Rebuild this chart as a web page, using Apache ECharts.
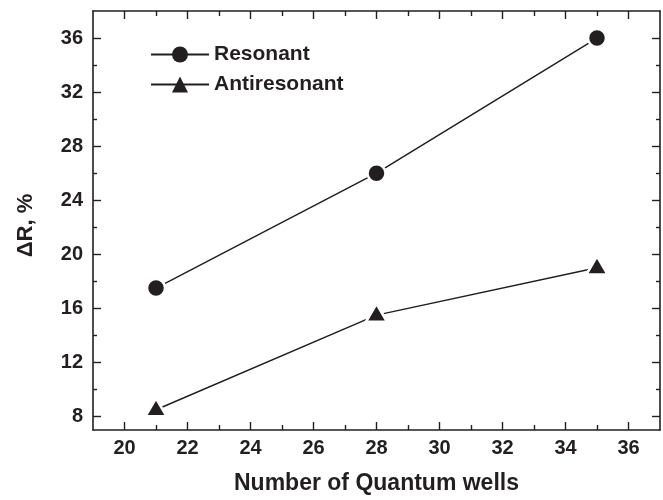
<!DOCTYPE html>
<html>
<head>
<meta charset="utf-8">
<style>
  html, body { margin: 0; padding: 0; background: #fff; }
  #chart { width: 663px; height: 500px; }
</style>
<script src="https://cdn.jsdelivr.net/npm/echarts@6/dist/echarts.min.js"></script>
</head>
<body>
<div id="chart"></div>
<script>
// Quantum well counts on the x axis
const wells = [21, 28, 35];
// Reflectance change, %
const resonant = [17.5, 26, 36];
const antiresonant = [8.5, 15.5, 19];

// Axis tick positions
const xMajor = [20, 22, 24, 26, 28, 30, 32, 34, 36];
const xMinor = [21, 23, 25, 27, 29, 31, 33, 35];
const yMajor = [8, 12, 16, 20, 24, 28, 32, 36];
const yMinor = [10, 14, 18, 22, 26, 30, 34];

const INK = '#231f20';
const FONT = '"Liberation Sans", Arial, Helvetica, sans-serif';

const chart = echarts.init(document.getElementById('chart'), null, { renderer: 'canvas' });

function xAx(pos, ticks, len, opts) {
  return Object.assign({
    type: 'value', position: pos, min: 19, max: 37, interval: 1,
    axisLine: { show: true, onZero: false, lineStyle: { color: INK, width: 1.6 } },
    axisTick: { show: true, inside: true, length: len, customValues: ticks, lineStyle: { color: INK, width: 1.4 } },
    axisLabel: { show: false },
    splitLine: { show: false }
  }, opts || {});
}
function yAx(pos, ticks, len, opts) {
  return Object.assign({
    type: 'value', position: pos, min: 7, max: 38, interval: 1,
    axisLine: { show: true, onZero: false, lineStyle: { color: INK, width: 1.6 } },
    axisTick: { show: true, inside: true, length: len, customValues: ticks, lineStyle: { color: INK, width: 1.4 } },
    axisLabel: { show: false },
    splitLine: { show: false }
  }, opts || {});
}

const option = {
  animation: false,
  backgroundColor: '#fff',
  grid: { left: 93, right: 3, top: 11, bottom: 68, containLabel: false },
  legend: {
    left: 145, top: 39, orient: 'vertical',
    itemWidth: 58, itemHeight: 20, itemGap: 9,
    itemStyle: { borderWidth: 0 },
    textStyle: { fontFamily: FONT, fontWeight: 'bold', fontSize: 21, color: INK },
    data: ['Resonant', 'Antiresonant']
  },
  graphic: [{
    type: 'text', x: 26, y: 225.5, rotation: Math.PI / 2,
    style: {
      text: 'ΔR, %', fill: INK, align: 'center', verticalAlign: 'middle',
      font: 'bold 22px ' + FONT
    }
  }],
  xAxis: [
    xAx('bottom', xMajor, 8, {
      axisLabel: { show: true, customValues: xMajor, margin: 8,
        fontFamily: FONT, fontWeight: 'bold', fontSize: 20, color: INK },
      name: 'Number of Quantum wells', nameLocation: 'middle', nameGap: 42,
      nameTextStyle: { fontFamily: FONT, fontWeight: 'bold', fontSize: 23, color: INK }
    }),
    xAx('bottom', xMinor, 5, { axisLine: { show: false } }),
    xAx('top', xMajor, 8),
    xAx('top', xMinor, 5, { axisLine: { show: false } })
  ],
  yAxis: [
    yAx('left', yMajor, 8, {
      axisLabel: { show: true, customValues: yMajor, margin: 10,
        fontFamily: FONT, fontWeight: 'bold', fontSize: 20, color: INK }
    }),
    yAx('left', yMinor, 4, { axisLine: { show: false } }),
    yAx('right', yMajor, 8),
    yAx('right', yMinor, 4, { axisLine: { show: false } })
  ],
  series: [
    {
      name: 'Resonant', type: 'line', xAxisIndex: 0, yAxisIndex: 0,
      data: wells.map((w, i) => [w, resonant[i]]),
      symbol: 'circle', symbolSize: 18,
      lineStyle: { color: INK, width: 1.5 },
      itemStyle: { color: INK, borderColor: '#fff', borderWidth: 2.5 },
      z: 3
    },
    {
      name: 'Antiresonant', type: 'line', xAxisIndex: 0, yAxisIndex: 0,
      data: wells.map((w, i) => [w, antiresonant[i]]),
      symbol: 'triangle', symbolSize: [21, 18], symbolOffset: [0, -2.5],
      lineStyle: { color: INK, width: 1.5 },
      itemStyle: { color: INK, borderColor: '#fff', borderWidth: 2.5 },
      z: 3
    }
  ]
};

chart.setOption(option);
</script>
</body>
</html>
